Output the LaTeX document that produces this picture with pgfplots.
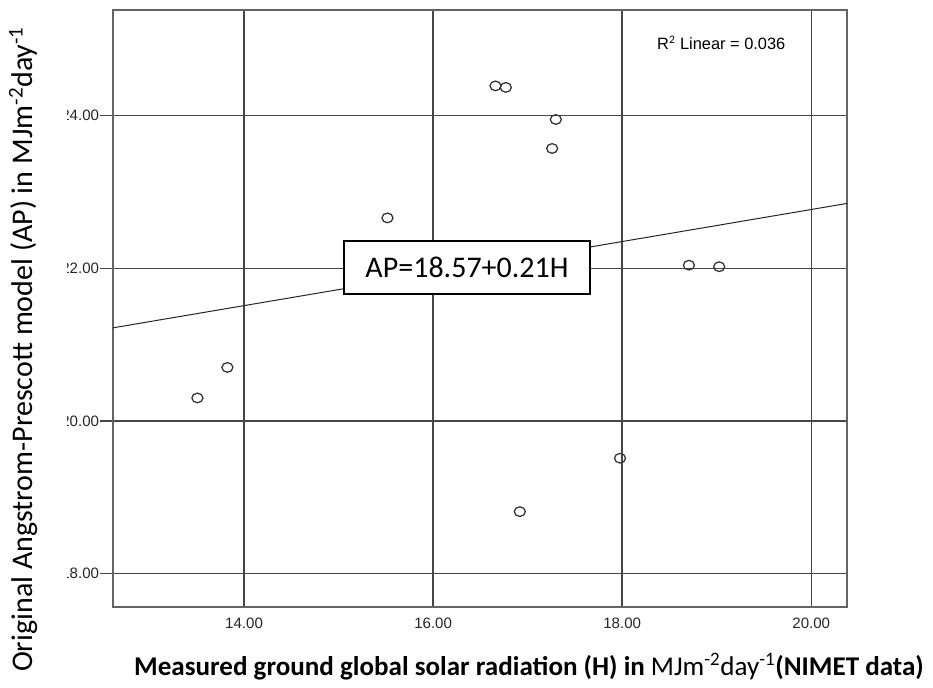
\documentclass[border=0pt]{standalone}
\usepackage{pgfplots}
\pgfplotsset{compat=1.18}
\usepackage{fontspec}
\setmainfont{Carlito}
\newfontfamily\arial{Liberation Sans}

\definecolor{gridgray}{RGB}{70,70,70}
\definecolor{framegray}{RGB}{100,100,100}

% Monthly pairs: measured H (NIMET) and Angstrom-Prescott estimate AP
\pgfplotstableread{
H       AP
13.507  20.30
13.824  20.70
15.517  22.66
16.660  24.39
16.769  24.37
17.298  23.95
17.259  23.57
16.917  18.81
17.977  19.51
18.706  22.04
19.026  22.02
}\apdata

\begin{document}
\begin{tikzpicture}
\useasboundingbox (0,0) rectangle (699.75pt,516pt);
\begin{axis}[
  at={(84.75pt,60.75pt)}, anchor=south west,
  scale only axis, width=550.5pt, height=447.75pt,
  xmin=12.614, xmax=20.378, ymin=17.56, ymax=25.385,
  xtick={14,16,18,20}, ytick={18,20,22,24},
  grid=major,
  major grid style={gridgray, line width=1.1pt},
  axis line style={framegray, line width=0.9pt},
  xtick style={draw=none},
  ytick style={gridgray, line width=1.1pt},
  tick align=outside, major tick length=9.75pt,
  xtick pos=bottom, ytick pos=left,
  /pgf/number format/.cd, fixed, fixed zerofill, precision=2, assume math mode=true,
  /pgfplots/.cd,
  ticklabel style={font=\arial\fontsize{11.3}{13}\selectfont, text=black!85},
  xticklabel style={yshift=5pt},
  yticklabel style={inner xsep=0.5pt},
  clip=true,
]
\addplot[black!85, line width=0.75pt, domain=12.614:20.378, samples=2] {18.57+0.21*x};
\addplot[only marks, mark=o, mark size=3.6pt, mark options={black!80, line width=0.95pt, fill=none, xscale=1.15}]
  table[x=H, y=AP] {\apdata};
\node[font=\arial\fontsize{12.3}{14}\selectfont, anchor=west, inner sep=0pt] at (rel axis cs:0.741,0.945) {R$^{\mathrm{2}}$ Linear = 0.036};
\end{axis}

% left part of the tick labels is cut away
\fill[white] (30pt,70pt) rectangle (50.6pt,445pt);

% equation box
\node[draw=black, line width=1.1pt, fill=white, minimum width=184.5pt, minimum height=39.75pt,
      font=\fontsize{22.5}{25}\selectfont, inner sep=0pt] at (350.25pt,315.4pt) {AP=18.57+0.21H};

% axis titles
\node[rotate=90, font=\fontsize{22.5}{25}\selectfont] at (17.5pt,254pt)
  {Original Angstrom-Prescott model (AP) in MJm\textsuperscript{-2}day\textsuperscript{-1}};
\node[font=\fontsize{20.3}{23}\selectfont] at (396.75pt,15.75pt)
  {\textbf{Measured ground global solar radiation (H) in} MJm\textsuperscript{-2}day\textsuperscript{-1}\textbf{(NIMET data)}};
\end{tikzpicture}
\end{document}
